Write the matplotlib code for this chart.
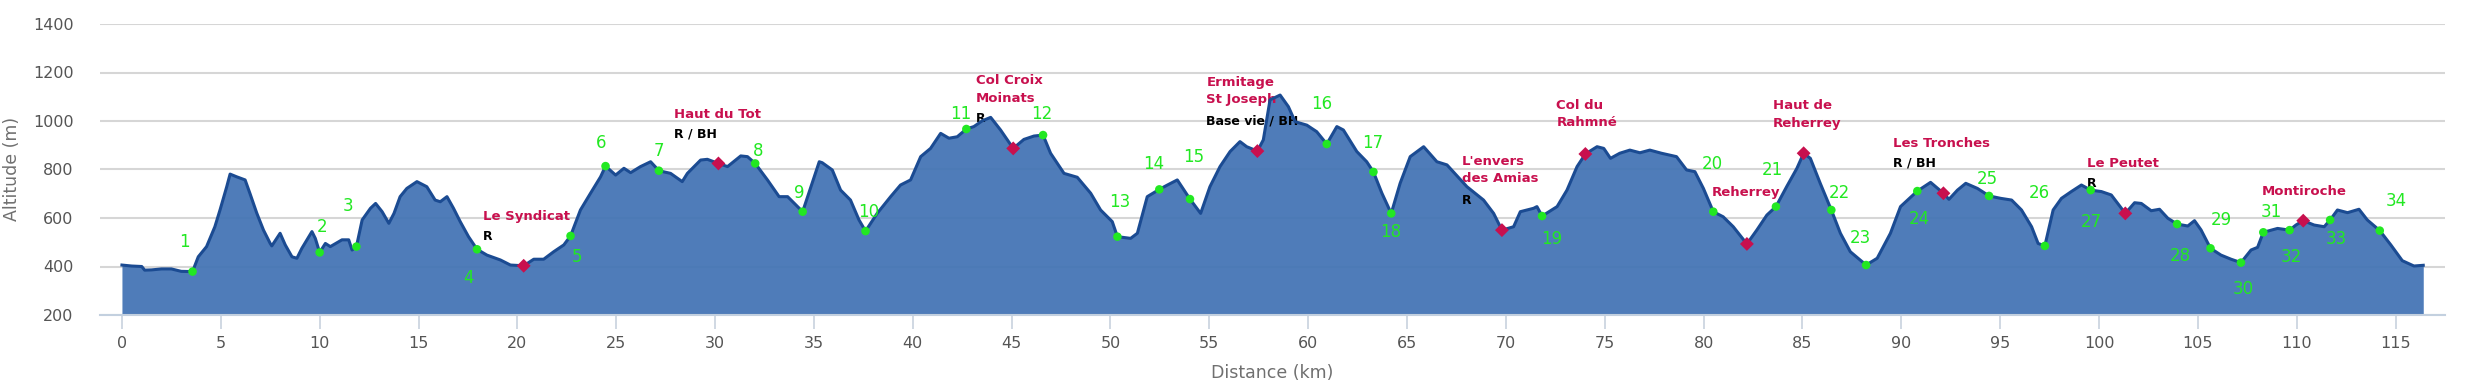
import matplotlib
matplotlib.use("Agg")
import matplotlib.pyplot as plt

# elevation profile
DIST_KM = [0.0, 0.49, 1.0, 1.15, 1.5, 2.0, 2.5, 3.0, 3.57, 3.86, 4.28, 4.7, 4.96, 5.3, 5.47,
           5.8, 6.23, 6.48, 6.82, 7.16, 7.5, 7.58, 8.0, 8.26, 8.6, 8.85, 9.1, 9.36, 9.61, 9.78,
           10.0, 10.29, 10.54, 10.71, 11.13, 11.47, 11.64, 11.86, 12.15, 12.57, 12.83, 13.16,
           13.5, 13.76, 14.07, 14.41, 14.92, 15.42, 15.84, 16.1, 16.44, 16.77, 17.11, 17.53,
           17.96, 18.46, 19.14, 19.65, 20.32, 20.83, 21.33, 21.84, 22.35, 22.69, 23.19, 23.7,
           24.21, 24.46, 24.97, 25.39, 25.73, 26.23, 26.74, 27.16, 27.75, 28.34, 28.6, 29.27,
           29.61, 30.17, 30.63, 31.3, 31.64, 32.03, 32.65, 33.24, 33.67, 34.43, 34.85, 35.27,
           35.42, 35.93, 36.35, 36.85, 37.28, 37.61, 38.2, 38.88, 39.38, 39.89, 40.4, 40.9,
           41.41, 41.83, 42.25, 42.71, 43.09, 43.52, 43.94, 44.44, 45.08, 45.62, 46.13, 46.59,
           46.97, 47.65, 48.32, 49.0, 49.5, 50.09, 50.35, 51.02, 51.36, 51.86, 52.47, 52.88,
           53.38, 54.02, 54.56, 55.03, 55.54, 56.05, 56.55, 56.89, 57.43, 57.73, 58.07, 58.58,
           59.0, 59.34, 59.93, 60.43, 60.94, 61.45, 61.78, 62.46, 62.96, 63.3, 63.73, 64.2,
           64.65, 65.16, 65.84, 66.51, 67.02, 68.03, 68.87, 69.38, 69.8, 70.39, 70.73, 71.4,
           71.57, 71.83, 72.59, 73.09, 73.6, 74.02, 74.61, 74.95, 75.29, 75.76, 76.27, 76.78,
           77.28, 77.87, 78.63, 79.14, 79.56, 79.99, 80.49, 80.99, 81.5, 82.19, 82.69, 83.2,
           83.66, 84.2, 84.72, 85.06, 85.4, 85.9, 86.46, 86.92, 87.42, 88.22, 88.78, 89.45,
           89.96, 90.81, 91.48, 92.13, 92.41, 92.84, 93.26, 93.85, 94.44, 95.03, 95.58, 96.08,
           96.59, 96.92, 97.26, 97.68, 98.1, 98.6, 99.11, 99.58, 100.12, 100.62, 101.33, 101.8,
           102.14, 102.64, 103.06, 103.48, 103.95, 104.49, 104.83, 105.16, 105.64, 106.17,
           106.68, 107.18, 107.69, 108.02, 108.31, 109.03, 109.64, 109.96, 110.33, 110.88,
           111.39, 111.69, 112.06, 112.57, 113.15, 113.57, 114.2, 114.76, 115.34, 115.93, 116.4]
ALT_M = [406, 402, 400, 385, 386, 390, 390, 380, 379, 440, 482, 564, 633, 729, 781,
         770, 757, 700, 620, 550, 495, 485, 537, 489, 440, 434, 475, 510, 544, 516,
         458, 495, 482, 490, 510, 510, 468, 482, 592, 640, 660, 626,
         578, 619, 688, 722, 750, 729, 674, 667, 688, 640, 585, 523,
         471, 447, 427, 406, 403, 430, 430, 461, 489, 526, 633, 702,
         770, 814, 777, 805, 787, 812, 832, 795, 784, 750, 784, 839,
         842, 825, 812, 856, 853, 825, 757, 688, 688, 626, 729, 832,
         828, 798, 715, 674, 592, 546, 619, 688, 736, 757, 853, 887,
         949, 929, 935, 967, 977, 1001, 1015, 963, 887, 924, 938, 942,
         867, 784, 768, 702, 633, 585, 523, 516, 537, 688, 718, 736,
         757, 678, 619, 729, 812, 874, 915, 894, 876, 922, 1087, 1107,
         1059, 997, 983, 956, 905, 977, 963, 874, 832, 790, 702, 619,
         743, 853, 894, 832, 819, 729, 674, 619, 550, 564, 626, 640,
         647, 608, 647, 715, 812, 864, 894, 887, 846, 867, 880, 869,
         880, 867, 853, 798, 791, 722, 626, 605, 564, 493, 550, 612,
         647, 729, 805, 867, 846, 743, 633, 537, 461, 406, 434, 537,
         647, 711, 747, 702, 677, 715, 743, 722, 691, 681, 674, 633,
         564, 495, 485, 633, 681, 709, 736, 715, 709, 695, 619, 663,
         660, 630, 636, 599, 575, 567, 589, 551, 475, 447,
         430, 416, 468, 479, 541, 557, 550, 571, 589, 571,
         564, 592, 633, 622, 636, 592, 548, 489, 424, 402, 405]

# numbered checkpoints (green)
CHECKPOINT_LABELS = ["1", "2", "3", "4", "5", "6", "7", "8", "9", "10", "11", "12",
                     "13", "14", "15", "16", "17", "18", "19", "20", "21", "22", "23",
                     "24", "25", "26", "27", "28", "29", "30", "31", "32", "33", "34"]
CHECKPOINT_KM = [3.57, 10.0, 11.86, 17.96, 22.69, 24.46, 27.16, 32.03, 34.43, 37.61,
                 42.71, 46.59, 50.35, 52.47, 54.02, 60.94, 63.3, 64.2, 71.83, 80.49,
                 83.66, 86.46, 88.22, 90.81, 94.44, 97.26, 99.58, 103.95, 105.64, 107.18,
                 108.31, 109.64, 111.69, 114.2]
CHECKPOINT_ALT = [379, 458, 482, 471, 526, 814, 795, 825, 626, 546,
                  967, 942, 523, 718, 678, 905, 790, 619, 608, 626,
                  647, 633, 406, 711, 691, 485, 715, 575, 475, 416,
                  541, 550, 592, 548]
# label offsets in pixels (dx, dy)
CHECKPOINT_OFFSETS = [(-8, 30), (2, 25), (-8, 41), (-9, -29), (6, -21), (-4, 23), (0, 20),
                      (3, 12), (-3, 19), (3, 19), (-6, 15), (-1, 21), (2, 35), (-6, 25),
                      (4, 42), (-5, 40), (-1, 29), (-1, -19), (10, -23), (-1, 48), (-4, 37),
                      (8, 17), (-6, 27), (2, -28), (-2, 17), (-6, 53), (1, -32), (3, -32),
                      (11, 28), (2, -26), (8, 20), (2, -27), (6, -19), (16, 30)]

# named waypoints (red)
WAYPOINT_NAMES = ["Le Syndicat", "Haut du Tot", "Col Croix\nMoinats", "Ermitage\nSt Joseph",
                  "L'envers\ndes Amias", "Col du\nRahmné", "Reherrey", "Haut de\nReherrey",
                  "Les Tronches", "Le Peutet", "Montiroche"]
WAYPOINT_NOTES = ["R", "R / BH", "R", "Base vie / BH", "R", "", "", "", "R / BH", "R", ""]
WAYPOINT_KM = [20.32, 30.17, 45.08, 57.43, 69.8, 74.02, 82.19, 85.06, 92.13, 101.33, 110.33]
WAYPOINT_ALT = [403, 825, 887, 876, 550, 864, 493, 867, 702, 619, 589]
# (dx, name centre dy, note dy) in pixels
WAYPOINT_OFFSETS = [(-41, 49, 29), (-44, 49, 29), (-37, 59, 30), (-51, 60, 30),
                    (-40, 60, 30), (-29, 40, 0), (-35, 51, 0), (-31, 39, 0),
                    (-50, 50, 30), (-38, 50, 30), (-41, 29, 0)]

FILL = "#4575b5"
LINE = "#1b4b92"
GREEN = "#22e822"
RED = "#c8104e"
W, H = 2487, 389

fig = plt.figure(figsize=(W / 100, H / 100), dpi=100)
ax = fig.add_axes([100 / W, 1 - 315 / H, 2345 / W, 291 / H])

ax.fill_between(DIST_KM, ALT_M, 200, color=FILL, lw=0, alpha=0.95, zorder=2)
ax.plot(DIST_KM, ALT_M, color=LINE, lw=2.2, zorder=3)

ax.scatter(CHECKPOINT_KM, CHECKPOINT_ALT, s=38, color=GREEN, edgecolors="none", zorder=5)
for lab, x, y, off in zip(CHECKPOINT_LABELS, CHECKPOINT_KM, CHECKPOINT_ALT, CHECKPOINT_OFFSETS):
    ax.annotate(lab, (x, y), xytext=off, textcoords="offset pixels", ha="center", va="center",
                color=GREEN, fontsize=12, zorder=6)

# waypoint names sit above the fill but under the profile line
ax.scatter(WAYPOINT_KM, WAYPOINT_ALT, s=50, marker="D", color=RED, edgecolors="none", zorder=5)
for name, note, x, y, off in zip(WAYPOINT_NAMES, WAYPOINT_NOTES, WAYPOINT_KM, WAYPOINT_ALT, WAYPOINT_OFFSETS):
    ax.annotate(name, (x, y), xytext=(off[0], off[1]), textcoords="offset pixels", ha="left",
                va="center", color=RED, fontsize=9.5, fontweight="bold", linespacing=1.45, zorder=2.5)
    if note:
        ax.annotate(note, (x, y), xytext=(off[0], off[2]), textcoords="offset pixels", ha="left",
                    va="center", color="black", fontsize=9, fontweight="bold", zorder=2.5)

ax.set_xlim(-1.11, 117.5)
ax.set_ylim(200, 1400)
ax.set_xticks(range(0, 120, 5))
ax.set_yticks(range(200, 1600, 200))
ax.yaxis.grid(True, color="#d6d6d6", lw=1.5, zorder=0.5)
ax.set_axisbelow(True)
for s in ["top", "right", "left"]:
    ax.spines[s].set_visible(False)
ax.spines["bottom"].set_color("#c3d0df")
ax.spines["bottom"].set_linewidth(1.5)
ax.tick_params(axis="x", length=10, width=1.2, color="#c8d2de", pad=5, labelsize=11.5,
               labelcolor="#555555")
ax.tick_params(axis="y", length=0, pad=19, labelsize=11.5, labelcolor="#555555")

fig.text(1272 / W, 1 - 373 / H, "Distance (km)", ha="center", va="center", fontsize=12.5, color="#707070")
fig.text(12 / W, 1 - 169 / H, "Altitude (m)", ha="center", va="center", rotation=90,
         fontsize=12.5, color="#707070")

fig.savefig("out.png", dpi=100)
